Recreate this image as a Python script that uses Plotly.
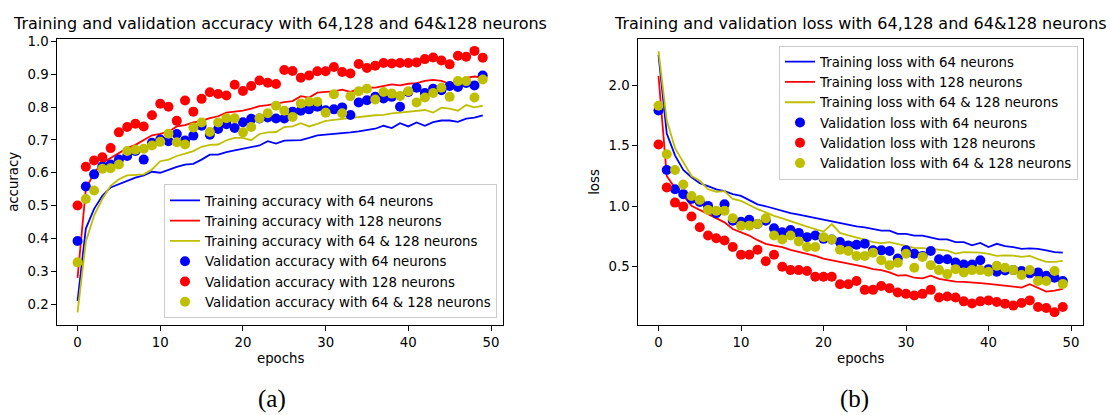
import plotly.graph_objects as go

epochs = list(range(50))

acc_train_64 = [0.21, 0.43, 0.49, 0.53, 0.555, 0.565, 0.575, 0.585, 0.592, 0.603,
                0.60, 0.61, 0.618, 0.625, 0.627, 0.64, 0.655, 0.655, 0.663, 0.668,
                0.673, 0.679, 0.683, 0.696, 0.689, 0.698, 0.698, 0.699, 0.706, 0.714,
                0.716, 0.718, 0.719, 0.723, 0.726, 0.731, 0.734, 0.743, 0.736, 0.751,
                0.741, 0.753, 0.743, 0.754, 0.759, 0.759, 0.755, 0.765, 0.768, 0.775]
acc_train_128 = [0.28, 0.55, 0.60, 0.63, 0.645, 0.66, 0.675, 0.685, 0.70, 0.714,
                 0.718, 0.725, 0.741, 0.745, 0.753, 0.758, 0.766, 0.772, 0.783, 0.786,
                 0.789, 0.795, 0.803, 0.806, 0.811, 0.815, 0.818, 0.833, 0.829, 0.844,
                 0.846, 0.848, 0.853, 0.846, 0.855, 0.859, 0.859, 0.863, 0.869, 0.866,
                 0.871, 0.873, 0.880, 0.883, 0.880, 0.871, 0.881, 0.889, 0.893, 0.890]
acc_train_both = [0.175, 0.39, 0.47, 0.52, 0.56, 0.58, 0.592, 0.593, 0.595, 0.61,
                  0.635, 0.640, 0.651, 0.658, 0.666, 0.679, 0.685, 0.686, 0.699, 0.706,
                  0.706, 0.699, 0.718, 0.723, 0.724, 0.739, 0.741, 0.751, 0.741, 0.749,
                  0.758, 0.761, 0.764, 0.768, 0.771, 0.774, 0.775, 0.776, 0.781, 0.783,
                  0.785, 0.788, 0.791, 0.783, 0.798, 0.795, 0.789, 0.806, 0.799, 0.804]
acc_val_64 = [0.392, 0.558, 0.595, 0.620, 0.625, 0.640, 0.651, 0.666, 0.640, 0.691,
              0.701, 0.696, 0.718, 0.698, 0.713, 0.743, 0.716, 0.733, 0.748, 0.736,
              0.754, 0.764, 0.765, 0.768, 0.765, 0.765, 0.786, 0.789, 0.793, 0.801,
              0.790, 0.793, 0.799, 0.776, 0.814, 0.821, 0.831, 0.826, 0.831, 0.801,
              0.846, 0.859, 0.843, 0.856, 0.851, 0.864, 0.861, 0.873, 0.866, 0.896]
acc_val_128 = [0.50, 0.618, 0.637, 0.647, 0.675, 0.723, 0.739, 0.749, 0.741, 0.775,
               0.810, 0.801, 0.758, 0.820, 0.786, 0.825, 0.845, 0.840, 0.835, 0.868,
               0.849, 0.864, 0.881, 0.874, 0.870, 0.913, 0.910, 0.889, 0.896, 0.909,
               0.909, 0.922, 0.907, 0.902, 0.931, 0.919, 0.926, 0.934, 0.933, 0.934,
               0.934, 0.936, 0.946, 0.951, 0.942, 0.930, 0.956, 0.953, 0.971, 0.950]
acc_val_both = [0.327, 0.520, 0.546, 0.612, 0.614, 0.625, 0.666, 0.670, 0.673, 0.683,
                0.694, 0.719, 0.693, 0.686, 0.738, 0.753, 0.724, 0.753, 0.766, 0.766,
                0.723, 0.739, 0.766, 0.781, 0.804, 0.789, 0.770, 0.811, 0.816, 0.816,
                0.783, 0.839, 0.781, 0.833, 0.848, 0.856, 0.823, 0.846, 0.841, 0.834,
                0.848, 0.814, 0.829, 0.843, 0.859, 0.831, 0.879, 0.879, 0.829, 0.884]

loss_train_64 = [2.25, 1.60, 1.42, 1.30, 1.24, 1.19, 1.166, 1.14, 1.125, 1.10,
                 1.085, 1.05, 1.016, 1.00, 0.98, 0.96, 0.943, 0.93, 0.916, 0.90,
                 0.889, 0.875, 0.861, 0.85, 0.834, 0.825, 0.812, 0.799, 0.799, 0.772,
                 0.772, 0.758, 0.758, 0.745, 0.726, 0.726, 0.704, 0.704, 0.677, 0.698,
                 0.663, 0.690, 0.671, 0.663, 0.649, 0.652, 0.649, 0.636, 0.622, 0.617]
loss_train_128 = [2.076, 1.25, 1.15, 1.09, 1.003, 0.97, 0.935, 0.90, 0.867, 0.812,
                  0.785, 0.758, 0.72, 0.69, 0.675, 0.663, 0.64, 0.625, 0.608, 0.59,
                  0.568, 0.555, 0.54, 0.53, 0.514, 0.50, 0.481, 0.473, 0.454, 0.427,
                  0.432, 0.41, 0.405, 0.427, 0.40, 0.386, 0.378, 0.375, 0.367, 0.365,
                  0.359, 0.351, 0.345, 0.337, 0.329, 0.356, 0.324, 0.296, 0.304, 0.318]
loss_train_both = [2.28, 1.71, 1.48, 1.36, 1.25, 1.21, 1.14, 1.12, 1.125, 1.06,
                   1.044, 1.01, 0.976, 0.95, 0.921, 0.90, 0.88, 0.855, 0.832, 0.81,
                   0.791, 0.853, 0.78, 0.76, 0.745, 0.725, 0.704, 0.696, 0.704, 0.688,
                   0.671, 0.657, 0.655, 0.65, 0.641, 0.633, 0.609, 0.622, 0.622, 0.617,
                   0.606, 0.59, 0.595, 0.593, 0.582, 0.59, 0.563, 0.541, 0.541, 0.549]
loss_val_64 = [1.79, 1.30, 1.14, 1.10, 1.06, 1.035, 1.003, 0.943, 1.016, 0.88,
               0.872, 0.889, 0.853, 0.88, 0.818, 0.785, 0.804, 0.78, 0.745, 0.758,
               0.731, 0.726, 0.704, 0.677, 0.682, 0.69, 0.636, 0.636, 0.63, 0.568,
               0.636, 0.608, 0.59, 0.63, 0.563, 0.563, 0.535, 0.519, 0.519, 0.555,
               0.481, 0.459, 0.47, 0.473, 0.465, 0.446, 0.454, 0.427, 0.41, 0.383]
loss_val_128 = [1.51, 1.155, 1.03, 0.997, 0.916, 0.826, 0.758, 0.736, 0.717, 0.663,
                0.60, 0.60, 0.641, 0.546, 0.60, 0.50, 0.473, 0.473, 0.465, 0.418,
                0.418, 0.418, 0.356, 0.356, 0.383, 0.31, 0.31, 0.342, 0.323, 0.288,
                0.277, 0.264, 0.277, 0.31, 0.247, 0.255, 0.247, 0.215, 0.198, 0.215,
                0.223, 0.209, 0.196, 0.18, 0.201, 0.223, 0.168, 0.16, 0.125, 0.168]
loss_val_both = [1.83, 1.43, 1.30, 1.18, 1.085, 1.052, 0.97, 0.962, 0.962, 0.90,
                 0.84, 0.84, 0.853, 0.90, 0.758, 0.726, 0.758, 0.71, 0.663, 0.663,
                 0.745, 0.726, 0.641, 0.63, 0.59, 0.59, 0.617, 0.555, 0.514, 0.533,
                 0.608, 0.492, 0.582, 0.514, 0.473, 0.44, 0.481, 0.454, 0.473, 0.473,
                 0.459, 0.508, 0.492, 0.473, 0.432, 0.473, 0.383, 0.383, 0.465, 0.359]

acc_names = ["Training accuracy with 64 neurons", "Training accuracy with 128 neurons",
             "Training accuracy with 64 & 128 neurons", "Validation accuracy with 64 neurons",
             "Validation accuracy with 128 neurons", "Validation accuracy with 64 & 128 neurons"]
loss_names = ["Training loss with 64 neurons", "Training loss with 128 neurons",
              "Training loss with 64 & 128 neurons", "Validation loss with 64 neurons",
              "Validation loss with 128 neurons", "Validation loss with 64 & 128 neurons"]
titles = ["Training and validation accuracy with 64,128 and 64&128 neurons",
          "Training and validation loss with 64,128 and 64&128 neurons"]
x_ticks = [0, 10, 20, 30, 40, 50]
acc_ticks = [0.2, 0.3, 0.4, 0.5, 0.6, 0.7, 0.8, 0.9, 1.0]
loss_ticks = [0.5, 1.0, 1.5, 2.0]

colors = ["#0000ff", "#ff0000", "#bfbf00"]
W, H = 1110, 415
FONT = "DejaVu Sans"

fig = go.Figure()

def add_panel(train, val, names, xa, ya, leg):
    for i, s in enumerate(train):
        fig.add_trace(go.Scatter(x=epochs, y=s, mode="lines", name=names[i],
                                 line=dict(color=colors[i], width=1.8),
                                 xaxis=xa, yaxis=ya, legend=leg))
    for i, s in enumerate(val):
        fig.add_trace(go.Scatter(x=epochs, y=s, mode="markers", name=names[3 + i],
                                 marker=dict(color=colors[i], size=10, line=dict(width=0)),
                                 xaxis=xa, yaxis=ya, legend=leg))

add_panel([acc_train_64, acc_train_128, acc_train_both],
          [acc_val_64, acc_val_128, acc_val_both], acc_names, "x", "y", "legend")
add_panel([loss_train_64, loss_train_128, loss_train_both],
          [loss_val_64, loss_val_128, loss_val_both], loss_names, "x2", "y2", "legend2")

def px(v):
    return v / W

def py(v):
    return 1 - v / H

top, bottom = 34.5, 324.0
left1, right1 = 57.3, 503.0
left2, right2 = 638.3, 1083.0

axis_common = dict(showline=True, mirror=True, linecolor="black", linewidth=1,
                   ticks="outside", ticklen=5, tickwidth=1, tickcolor="black",
                   showgrid=False, zeroline=False,
                   tickfont=dict(family=FONT, size=13.3, color="black"))

fig.update_layout(
    width=W, height=H, margin=dict(l=0, r=0, t=0, b=0),
    paper_bgcolor="white", plot_bgcolor="white",
    font=dict(family=FONT, size=13.3, color="black"),
    xaxis=dict(domain=[px(left1), px(right1)], range=[-2.45, 51.45], anchor="y",
               tickvals=x_ticks, **axis_common),
    yaxis=dict(domain=[py(bottom), py(top)], range=[0.136, 1.007], anchor="x",
               tickvals=acc_ticks, tickformat=".1f", **axis_common),
    xaxis2=dict(domain=[px(left2), px(right2)], range=[-2.45, 51.45], anchor="y2",
                tickvals=x_ticks, **axis_common),
    yaxis2=dict(domain=[py(bottom), py(top)], range=[0.019, 2.38], anchor="x2",
                tickvals=loss_ticks, tickformat=".1f", **axis_common),
    legend=dict(x=px(497), y=py(317), xanchor="right", yanchor="bottom",
                bgcolor="rgba(255,255,255,0.8)", bordercolor="#cccccc", borderwidth=1,
                font=dict(family=FONT, size=13.3, color="black")),
    legend2=dict(x=px(1078), y=py(41), xanchor="right", yanchor="top",
                 bgcolor="rgba(255,255,255,0.8)", bordercolor="#cccccc", borderwidth=1,
                 font=dict(family=FONT, size=13.3, color="black")),
    showlegend=True,
)

ann = []
for t, cx in zip(titles, [(left1 + right1) / 2, (left2 + right2) / 2]):
    ann.append(dict(text=t, x=px(cx), y=py(19), xref="paper", yref="paper",
                    xanchor="center", yanchor="middle", showarrow=False,
                    font=dict(family=FONT, size=16, color="black")))
for cx in [(left1 + right1) / 2, (left2 + right2) / 2]:
    ann.append(dict(text="epochs", x=px(cx), y=py(357.5), xref="paper", yref="paper",
                    xanchor="center", yanchor="middle", showarrow=False,
                    font=dict(family=FONT, size=13.3, color="black")))
ann.append(dict(text="accuracy", x=px(14), y=py(179), xref="paper", yref="paper",
                xanchor="center", yanchor="middle", showarrow=False, textangle=-90,
                font=dict(family=FONT, size=13.3, color="black")))
ann.append(dict(text="loss", x=px(595), y=py(179), xref="paper", yref="paper",
                xanchor="center", yanchor="middle", showarrow=False, textangle=-90,
                font=dict(family=FONT, size=13.3, color="black")))
for lab, cx in [("(a)", 272), ("(b)", 854)]:
    ann.append(dict(text=lab, x=px(cx), y=py(399), xref="paper", yref="paper",
                    xanchor="center", yanchor="middle", showarrow=False,
                    font=dict(family="Liberation Serif", size=25, color="black")))
fig.update_layout(annotations=ann)

fig.write_html("out.html")
